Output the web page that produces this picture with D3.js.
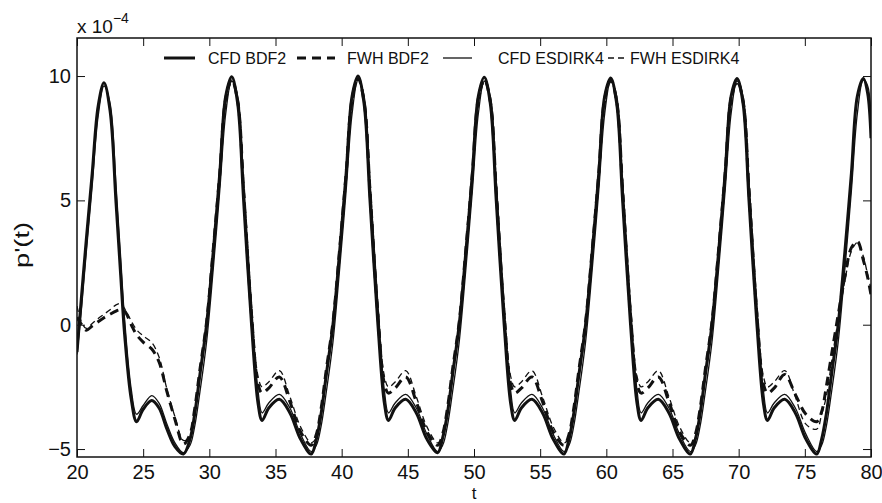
<!DOCTYPE html>
<html>
<head>
<meta charset="utf-8">
<script src="https://cdn.jsdelivr.net/npm/d3@7"></script>
<style>
body { margin: 0; background: #fff; }
text { font-family: "Liberation Sans", Arial, sans-serif; fill: #111; }
</style>
</head>
<body>
<svg width="882" height="503"></svg>
<script>
// time samples (shared by all four series)
var times = [
20, 20.35, 20.7, 21.15, 21.6, 22.04, 22.5, 22.95, 23.3, 23.6, 24.1, 24.5, 25.0, 25.65, 26.2, 26.8, 27.4, 28.04,
28.54, 28.89, 29.29, 29.79, 30.29, 30.79, 31.24, 31.69, 32.14, 32.59, 33.19, 33.69, 33.99, 34.49, 35.29, 36.09, 36.89, 37.70,
38.09, 38.44, 38.84, 39.34, 39.84, 40.34, 40.79, 41.24, 41.69, 42.14, 42.74, 43.24, 43.54, 44.04, 44.84, 45.64, 46.44, 47.25,
47.63, 47.98, 48.38, 48.88, 49.38, 49.88, 50.33, 50.78, 51.23, 51.68, 52.28, 52.78, 53.08, 53.58, 54.38, 55.18, 55.98, 56.80,
57.18, 57.53, 57.93, 58.43, 58.93, 59.43, 59.88, 60.33, 60.78, 61.23, 61.83, 62.33, 62.63, 63.13, 63.93, 64.73, 65.53, 66.35,
66.73, 67.08, 67.48, 67.98, 68.48, 68.98, 69.43, 69.88, 70.33, 70.78, 71.38, 71.88, 72.18, 72.68, 73.48, 74.28, 75.08, 75.90,
76.27, 76.62, 77.02, 77.52, 78.02, 78.52, 78.97, 79.42, 79.75, 80.0
];

// p'(t) in units of 1e-4
var cfdBdf2 = [
-1.1, 1.2, 3.4, 6.1, 8.8, 9.73, 8.6, 4.9, 2.0, -0.4, -3.0, -3.9, -3.4, -3.05, -3.35, -4.2, -4.9, -5.2,
-4.6, -3.6, -2.0, 0.0, 2.9, 6.1, 9.2, 9.97, 8.9, 5.0, 0.0, -3.2, -3.85, -3.35, -3.0, -3.55, -4.6, -5.2,
-4.6, -3.6, -2.0, 0.0, 2.9, 6.1, 9.2, 10.0, 8.9, 5.0, 0.0, -3.2, -3.85, -3.35, -3.0, -3.55, -4.6, -5.15,
-4.55, -3.6, -2.0, 0.0, 2.9, 6.1, 9.2, 9.95, 8.9, 5.0, 0.0, -3.2, -3.85, -3.35, -3.0, -3.55, -4.6, -5.2,
-4.6, -3.6, -2.0, 0.0, 2.9, 6.1, 9.2, 9.92, 8.9, 5.0, 0.0, -3.2, -3.85, -3.35, -3.0, -3.55, -4.6, -5.2,
-4.6, -3.6, -2.0, 0.0, 2.9, 6.1, 9.2, 9.9, 8.9, 5.0, 0.0, -3.2, -3.85, -3.35, -3.0, -3.55, -4.6, -5.2,
-4.6, -3.6, -2.0, 0.0, 2.9, 6.1, 9.2, 9.9, 9.3, 7.5
];

var fwhBdf2 = [
0.3, 0.0, -0.22, -0.05, 0.12, 0.28, 0.42, 0.55, 0.6, 0.55, 0.0, -0.4, -0.7, -0.98, -1.5, -2.7, -3.8, -4.8,
-4.4, -3.4, -1.8, 0.1, 3.0, 6.1, 9.1, 9.85, 9.0, 5.4, 0.4, -2.4, -2.75, -2.55, -2.1, -3.1, -4.3, -4.85,
-4.4, -3.4, -1.8, 0.1, 3.0, 6.1, 9.1, 9.9, 9.0, 5.4, 0.4, -2.4, -2.75, -2.55, -2.1, -3.1, -4.3, -4.85,
-4.4, -3.4, -1.8, 0.1, 3.0, 6.1, 9.1, 9.85, 9.0, 5.4, 0.4, -2.4, -2.75, -2.55, -2.1, -3.1, -4.3, -4.85,
-4.4, -3.4, -1.8, 0.1, 3.0, 6.1, 9.1, 9.85, 9.0, 5.4, 0.4, -2.4, -2.75, -2.55, -2.1, -3.1, -4.3, -4.85,
-4.4, -3.4, -1.8, 0.1, 3.0, 6.1, 9.1, 9.8, 9.0, 5.4, 0.4, -2.4, -2.75, -2.55, -2.0, -2.8, -3.6, -3.9,
-3.5, -2.5, -1.2, 0.4, 1.9, 3.1, 3.35, 2.6, 1.9, 1.2
];

var cfdEsdirk4 = [
-1.2, 0.7, 2.9, 5.6, 8.4, 9.6, 8.9, 5.6, 2.7, 0.2, -2.6, -3.6, -3.25, -2.85, -3.15, -4.0, -4.75, -5.15,
-4.85, -4.1, -2.7, -0.7, 2.2, 5.4, 8.5, 9.8, 9.2, 5.8, 0.8, -2.7, -3.55, -3.15, -2.8, -3.35, -4.4, -5.1,
-4.85, -4.1, -2.7, -0.7, 2.2, 5.4, 8.5, 9.85, 9.2, 5.8, 0.8, -2.7, -3.55, -3.15, -2.8, -3.35, -4.4, -5.1,
-4.85, -4.1, -2.7, -0.7, 2.2, 5.4, 8.5, 9.8, 9.2, 5.8, 0.8, -2.7, -3.55, -3.15, -2.8, -3.35, -4.4, -5.1,
-4.85, -4.1, -2.7, -0.7, 2.2, 5.4, 8.5, 9.8, 9.2, 5.8, 0.8, -2.7, -3.55, -3.15, -2.8, -3.35, -4.4, -5.1,
-4.85, -4.1, -2.7, -0.7, 2.2, 5.4, 8.5, 9.8, 9.2, 5.8, 0.8, -2.7, -3.55, -3.15, -2.8, -3.35, -4.4, -5.1,
-4.85, -4.1, -2.7, -0.7, 2.2, 5.4, 8.5, 9.85, 9.6, 8.2
];

var fwhEsdirk4 = [
0.75, 0.1, -0.15, 0.05, 0.25, 0.42, 0.6, 0.8, 0.85, 0.65, 0.15, -0.2, -0.45, -0.72, -1.3, -2.6, -3.7, -4.65,
-4.55, -3.6, -2.1, -0.2, 2.6, 5.8, 8.8, 9.75, 9.1, 5.8, 0.8, -2.1, -2.5, -2.3, -1.85, -2.9, -4.1, -4.75,
-4.55, -3.6, -2.1, -0.2, 2.6, 5.8, 8.8, 9.8, 9.1, 5.8, 0.8, -2.1, -2.5, -2.3, -1.85, -2.9, -4.1, -4.75,
-4.55, -3.6, -2.1, -0.2, 2.6, 5.8, 8.8, 9.75, 9.1, 5.8, 0.8, -2.1, -2.5, -2.3, -1.85, -2.9, -4.1, -4.75,
-4.55, -3.6, -2.1, -0.2, 2.6, 5.8, 8.8, 9.75, 9.1, 5.8, 0.8, -2.1, -2.5, -2.3, -1.85, -2.9, -4.1, -4.75,
-4.55, -3.6, -2.1, -0.2, 2.6, 5.8, 8.8, 9.7, 9.1, 5.8, 0.8, -2.1, -2.5, -2.3, -1.85, -2.9, -4.0, -4.2,
-3.6, -2.9, -1.5, 0.2, 1.75, 2.95, 3.3, 2.75, 2.0, 1.45
];

var seriesNames = ["CFD BDF2", "FWH BDF2", "CFD ESDIRK4", "FWH ESDIRK4"];
var xTicks = [20, 25, 30, 35, 40, 45, 50, 55, 60, 65, 70, 75, 80];
var yTicks = [-5, 0, 5, 10];

var series = [
  {name: seriesNames[0], values: cfdBdf2, width: 3, dash: null},
  {name: seriesNames[1], values: fwhBdf2, width: 3, dash: "9,6"},
  {name: seriesNames[2], values: cfdEsdirk4, width: 1.3, dash: null},
  {name: seriesNames[3], values: fwhEsdirk4, width: 1.3, dash: "6,4"}
];

var svg = d3.select("svg"),
margin = {top: 38, right: 11, bottom: 46, left: 77},
width = +svg.attr("width") - margin.left - margin.right,
height = +svg.attr("height") - margin.top - margin.bottom,
g = svg.append("g").attr("transform", "translate(" + margin.left + "," + margin.top + ")");

var x = d3.scaleLinear().domain([20, 80]).range([0, width]),
y = d3.scaleLinear().domain([-5.32, 11.53]).range([height, 0]);

g.append("defs").append("clipPath").attr("id", "clip")
  .append("rect").attr("width", width).attr("height", height);

var line = d3.line()
  .curve(d3.curveCatmullRom.alpha(0.5))
  .x(function(d) { return x(d[0]); })
  .y(function(d) { return y(d[1]); });

// axes, MATLAB style: inward ticks on all four sides
function styleAxis(sel) {
  sel.select(".domain").remove();
  sel.selectAll(".tick line").attr("stroke", "#111").attr("stroke-width", 1);
  sel.selectAll("text").style("font-size", "20px").attr("fill", "#111");
}

g.append("g")
  .attr("transform", "translate(0," + height + ")")
  .call(d3.axisBottom(x).tickValues(xTicks).tickSizeInner(-8).tickSizeOuter(0).tickPadding(8))
  .call(styleAxis);

g.append("g")
  .call(d3.axisTop(x).tickValues(xTicks).tickSizeInner(-8).tickSizeOuter(0).tickFormat(""))
  .call(styleAxis);

g.append("g")
  .call(d3.axisLeft(y).tickValues(yTicks).tickSizeInner(-8).tickSizeOuter(0).tickPadding(6))
  .call(styleAxis);

g.append("g")
  .attr("transform", "translate(" + width + ",0)")
  .call(d3.axisRight(y).tickValues(yTicks).tickSizeInner(-8).tickSizeOuter(0).tickFormat(""))
  .call(styleAxis);

g.append("g").attr("clip-path", "url(#clip)")
  .selectAll("path")
  .data(series)
  .enter().append("path")
    .attr("fill", "none")
    .attr("stroke", "#111")
    .attr("stroke-width", function(d) { return d.width; })
    .attr("stroke-dasharray", function(d) { return d.dash; })
    .attr("stroke-linejoin", "round")
    .attr("d", function(d) { return line(times.map(function(t, i) { return [t, d.values[i]]; })); });

g.append("rect")
  .attr("width", width)
  .attr("height", height)
  .attr("fill", "none")
  .attr("stroke", "#111")
  .attr("stroke-width", 1.5);

// legend (no box)
var legendX = [87, 220, 366, 531],
    legendLen = [31, 38, 29, 17],
    legendTextX = [44, 50, 55, 22];
var legend = g.selectAll(".legend")
  .data(series)
  .enter().append("g")
    .attr("class", "legend")
    .attr("transform", function(d, i) { return "translate(" + legendX[i] + ",20)"; });

legend.append("line")
  .attr("x1", 0)
  .attr("x2", function(d, i) { return legendLen[i]; })
  .attr("stroke", "#111")
  .attr("stroke-width", function(d) { return d.width; })
  .attr("stroke-dasharray", function(d) { return d.dash; });

legend.append("text")
  .attr("x", function(d, i) { return legendTextX[i]; })
  .attr("dy", "0.36em")
  .style("font-size", "16px")
  .text(function(d) { return d.name; });

// exponent label
var expo = svg.append("text")
  .attr("x", 77)
  .attr("y", 33)
  .style("font-size", "19px");
expo.append("tspan").text("x 10");
expo.append("tspan").attr("dy", -10).style("font-size", "14px").text("\u22124");

svg.append("text")
  .attr("transform", "translate(29,245) rotate(-90)")
  .attr("text-anchor", "middle")
  .attr("textLength", 46)
  .attr("lengthAdjust", "spacingAndGlyphs")
  .style("font-size", "21px")
  .text("p'(t)");

svg.append("text")
  .attr("x", margin.left + width / 2)
  .attr("y", 499)
  .attr("text-anchor", "middle")
  .style("font-size", "17px")
  .text("t");
</script>
</body>
</html>
